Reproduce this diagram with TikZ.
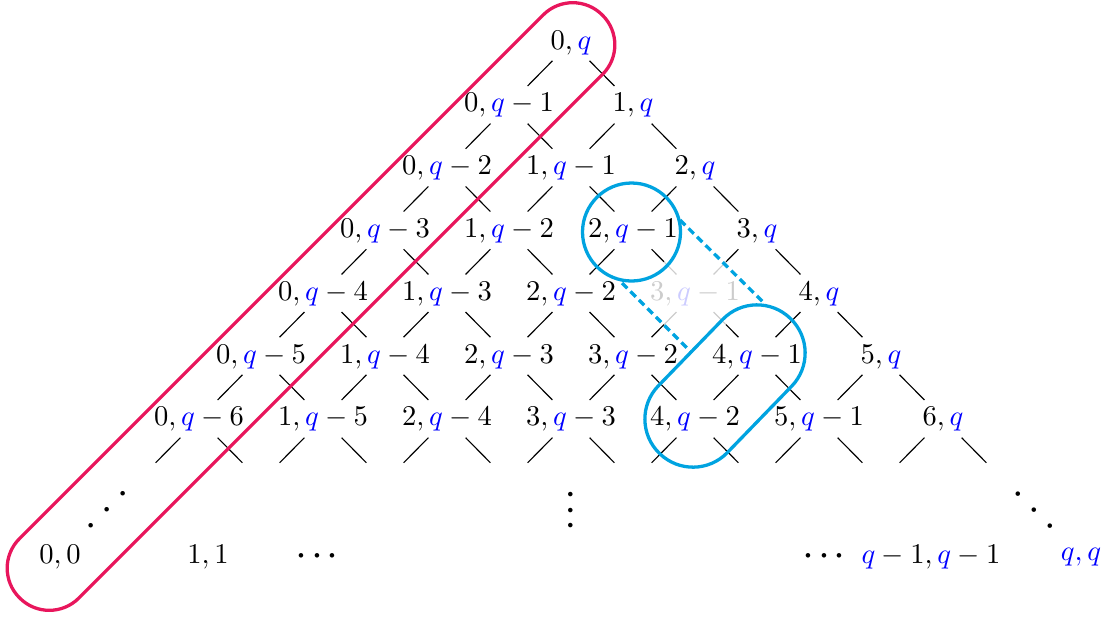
\documentclass[tikz,border=0pt]{standalone}
\usetikzlibrary{calc}
\definecolor{pinkred}{RGB}{232,22,92}
\definecolor{skyb}{RGB}{0,163,224}
\newcommand{\bq}{\textcolor{blue}{q}}
\newcommand{\mydot}{\mathord{\cdot}}
\begin{document}
\begin{tikzpicture}[x=0.35pt,y=-0.35pt,
  lab/.style={inner sep=0pt,text height=7pt,text depth=2pt},
  dotsn/.style={inner sep=0pt,text height=5pt,text depth=0pt,scale=1.5},
  edge/.style={line width=0.4pt,black},
  fadededge/.style={line width=0.4pt,black!20},
  redpill/.style={draw=pinkred,line width=1.15pt},
  bluehl/.style={draw=skyb,line width=1.15pt},
  bluedash/.style={draw=skyb,line width=1.15pt,dash pattern=on 2.6pt off 1.6pt}]
\useasboundingbox (0,0) rectangle (1104,617);

% triangle nodes
\foreach \r in {0,...,6} {
  \foreach \k in {0,...,\r} {
    \pgfmathtruncatemacro\d{\r-\k}
    \pgfmathtruncatemacro\idx{10*\r+\k}
    \ifnum\idx=43
      \node[lab,text opacity=0.2] (n-\r-\k) at ({571-62*\r+124*\k},{42+62.8*\r}) {$\k,\bq\ifnum\d>0 -\d\fi$};
    \else
      \node[lab] (n-\r-\k) at ({571-62*\r+124*\k},{42+62.8*\r}) {$\k,\bq\ifnum\d>0 -\d\fi$};
    \fi
  }
}
% phantom row below
\foreach \k in {0,...,7} {
  \coordinate (n-7-\k) at ({571-62*7+124*\k},{42+62.8*7});
}

% connectors
\foreach \r in {0,...,6} {
  \pgfmathtruncatemacro\rr{\r+1}
  \foreach \k in {0,...,\r} {
    \pgfmathtruncatemacro\kk{\k+1}
    \pgfmathtruncatemacro\idx{10*\r+\k}
    \ifnum\idx=33 \else\ifnum\idx=43 \else
      \draw[edge] ($(n-\r-\k)!0.3!(n-\rr-\k)$) -- ($(n-\r-\k)!0.7!(n-\rr-\k)$);
    \fi\fi
    \ifnum\idx=32 \else\ifnum\idx=43 \else
      \draw[edge] ($(n-\r-\k)!0.3!(n-\rr-\kk)$) -- ($(n-\r-\k)!0.7!(n-\rr-\kk)$);
    \fi\fi
  }
}
% connectors of the faded node, half faded
\draw[edge] ($(n-3-2)!0.3!(n-4-3)$) -- ($(n-3-2)!0.5!(n-4-3)$);
\draw[fadededge] ($(n-3-2)!0.5!(n-4-3)$) -- ($(n-3-2)!0.7!(n-4-3)$);
\draw[edge] ($(n-3-3)!0.3!(n-4-3)$) -- ($(n-3-3)!0.5!(n-4-3)$);
\draw[fadededge] ($(n-3-3)!0.5!(n-4-3)$) -- ($(n-3-3)!0.7!(n-4-3)$);
\draw[fadededge] ($(n-4-3)!0.3!(n-5-3)$) -- ($(n-4-3)!0.5!(n-5-3)$);
\draw[edge] ($(n-4-3)!0.5!(n-5-3)$) -- ($(n-4-3)!0.7!(n-5-3)$);
\draw[fadededge] ($(n-4-3)!0.3!(n-5-4)$) -- ($(n-4-3)!0.5!(n-5-4)$);
\draw[edge] ($(n-4-3)!0.5!(n-5-4)$) -- ($(n-4-3)!0.7!(n-5-4)$);

% bottom row
\node[lab] (b00) at (60,556) {$0,0$};
\node[lab] (b11) at (208,556) {$1,1$};
\node[dotsn] (dl) at (317,556) {$\mydot\kern0.82pt\mydot\kern0.82pt\mydot$};
\node[dotsn,rotate=90] (dv) at (571,510) {$\mydot\kern0.82pt\mydot\kern0.82pt\mydot$};
\node[dotsn] (dr) at (824,556) {$\mydot\kern0.82pt\mydot\kern0.82pt\mydot$};
\node[lab] (bq1) at (931,556) {$\bq-1,\bq-1$};
\node[lab] (bqq) at (1081,553) {$\textcolor{blue}{q,q}$};
\node[dotsn,rotate=45] (dd1) at (107,510) {$\mydot\kern2.49pt\mydot\kern2.49pt\mydot$};
\node[dotsn,rotate=-45] (dd2) at (1034,510) {$\mydot\kern2.49pt\mydot\kern2.49pt\mydot$};

% highlights
\draw[redpill,rotate around={45:(311,306.5)},rounded corners=14.6pt]
  (311-412.1,306.5-42) rectangle (311+412.1,306.5+42);
\draw[bluehl] (631.5,232) circle[radius=49];
\draw[bluehl,rotate around={45.9:(725,386)},rounded corners=16.7pt]
  (725-94,386-48) rectangle (725+94,386+48);
\coordinate (d1a) at (680,220);
\coordinate (d1b) at (763,302);
\coordinate (d2a) at (622,283);
\coordinate (d2b) at (692,353);
\draw[bluedash] (d1a) -- (d1b);
\draw[bluedash] (d2a) -- (d2b);
\end{tikzpicture}
\end{document}
